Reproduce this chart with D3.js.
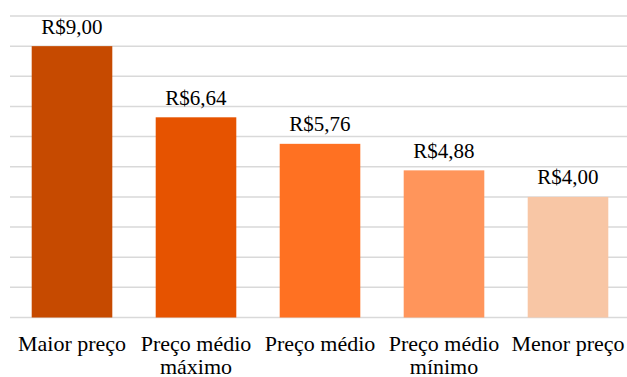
<!DOCTYPE html>
<html><head><meta charset="utf-8"><script src="https://cdn.jsdelivr.net/npm/d3@7"></script></head>
<body style="margin:0">
<script>
// Price summary (R$)
const categories = [["Maior preço"], ["Preço médio", "máximo"], ["Preço médio"], ["Preço médio", "mínimo"], ["Menor preço"]];
const values = [9.00, 6.64, 5.76, 4.88, 4.00];
const barColors = ["#C64A00", "#E65300", "#FF7122", "#FF955B", "#F8C6A5"];
const gridTicks = [0, 1, 2, 3, 4, 5, 6, 7, 8, 9, 10];

const W = 627, H = 377;
const plot = { left: 10, right: 630, top: 16, bottom: 317.5 };
const labelFont = "Liberation Serif";

const svg = d3.select("body").append("svg").attr("width", W).attr("height", H);

const x = d3.scaleBand()
  .domain(d3.range(values.length))
  .range([plot.left, plot.right])
  .paddingInner(0.35)
  .paddingOuter(0.175);

const y = d3.scaleLinear().domain([0, 10]).range([plot.bottom, plot.top]);

// Horizontal gridlines
svg.selectAll("line")
  .data(gridTicks)
  .join("line")
  .attr("x1", plot.left).attr("x2", W)
  .attr("y1", d => y(d)).attr("y2", d => y(d))
  .attr("stroke", "#d9d9d9")
  .attr("stroke-width", 1.5);

// Bars
svg.selectAll("rect")
  .data(values)
  .join("rect")
  .attr("x", (d, i) => x(i))
  .attr("width", x.bandwidth())
  .attr("y", d => y(d))
  .attr("height", d => y(0) - y(d))
  .attr("fill", (d, i) => barColors[i]);

const fmt = v => "R$" + v.toFixed(2).replace(".", ",");

// Value labels
svg.selectAll("text.value")
  .data(values)
  .join("text")
  .attr("class", "value")
  .attr("x", (d, i) => x(i) + x.bandwidth() / 2)
  .attr("y", d => y(d) - 12.5)
  .attr("text-anchor", "middle")
  .style("font-family", `"${labelFont}", monospace`)
  .style("font-size", "21px")
  .text(d => fmt(d));

// Category labels (two-line where needed)
const lines = [];
categories.forEach((c, i) => c.forEach((t, j) => lines.push({ i, j, t })));
svg.selectAll("text.category")
  .data(lines)
  .join("text")
  .attr("class", "category")
  .attr("x", d => x(d.i) + x.bandwidth() / 2)
  .attr("y", d => 351 + d.j * 23.2)
  .attr("text-anchor", "middle")
  .style("font-family", `"${labelFont}", monospace`)
  .style("font-size", "22px")
  .text(d => d.t);
</script>
</body></html>
